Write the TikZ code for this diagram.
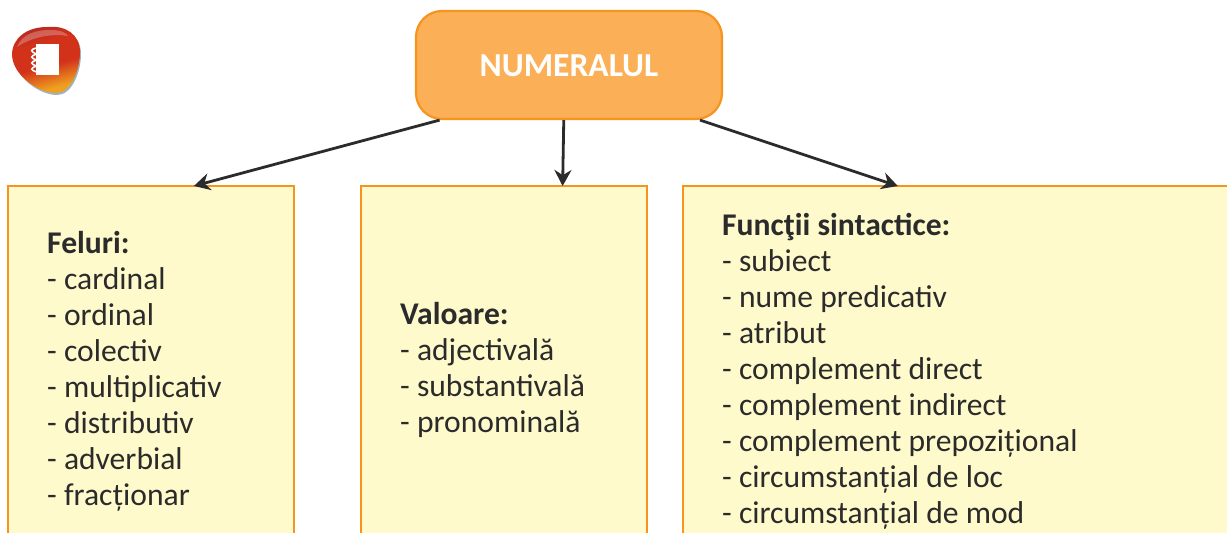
\documentclass[tikz,border=0pt]{standalone}
\usepackage{fontspec}
\setmainfont{Carlito}
\usetikzlibrary{arrows.meta,calc}
\definecolor{boxfill}{HTML}{FEFACB}
\definecolor{boxline}{HTML}{F7941E}
\definecolor{rootfill}{HTML}{FBAF57}
\definecolor{ink}{HTML}{2B2B2B}
\definecolor{iconshadow}{HTML}{9DB4BC}
\definecolor{icontop}{HTML}{B82A22}
\definecolor{iconmid}{HTML}{D2321A}
\definecolor{iconlow}{HTML}{EFA020}
\pgfdeclareverticalshading{iconshade}{100bp}{color(0bp)=(iconlow); color(28bp)=(iconlow); color(45bp)=(iconmid); color(62bp)=(iconmid); color(75bp)=(icontop); color(100bp)=(icontop)}
\tikzset{
  x=1pt,y=-1pt,
  panel/.style={draw=boxline,line width=2.8pt,fill=boxfill,rectangle,inner sep=0pt,outer sep=0pt,anchor=north west},
  rootbox/.style={draw=boxline,line width=2.2pt,fill=rootfill,rectangle,rounded corners=26pt,minimum width=306pt,minimum height=108pt,inner sep=0pt},
  listing/.style={anchor=north west,align=left,inner sep=0pt,text=ink,font=\fontsize{31.6}{36}\selectfont},
  link/.style={draw=ink,line width=2.8pt,-{Stealth[length=16pt,width=17pt]}}
}
\begin{document}
\begin{tikzpicture}
\useasboundingbox (0,0) rectangle (1227,533);
\clip (0,0) rectangle (1227,533);
\fill[white] (0,0) rectangle (1227,533);
% icon
\fill[iconshadow] (14,57) .. controls (14,40) and (28,28) .. (48,28) .. controls (66,26) and (81,36) .. (81,54) .. controls (81,72) and (72,95) .. (57,95) .. controls (40,95) and (15,78) .. (14,57) -- cycle;
\shade[shading=iconshade,shading angle=15]
 (12,55) .. controls (12,38) and (27,27) .. (47,27) .. controls (65,25) and (80,34) .. (80,52) .. controls (80,70) and (71,93) .. (56,93) .. controls (39,93) and (13,76) .. (12,55) -- cycle;
\fill[white,opacity=0.25] (17,47) .. controls (22,34) and (36,30) .. (50,30) .. controls (62,30) and (66,33) .. (68,36) .. controls (50,33) and (30,38) .. (17,47) -- cycle;
\fill[white] (36,44) rectangle (59,75);
\draw[white,line width=1.6pt] (37,48) .. controls (30,49) and (30,52) .. (37,54) .. controls (30,56) and (30,58) .. (37,60) .. controls (30,62) and (30,64) .. (37,66) .. controls (30,68) and (30,70) .. (37,72);
% boxes
\node[panel,minimum width=286pt,minimum height=400pt] (felbox) at (8,186) {};
\node[panel,minimum width=286pt,minimum height=400pt] (valbox) at (361,186) {};
\node[panel,minimum width=600pt,minimum height=400pt] (funbox) at (683,186) {};
\node[rootbox,text=white,font=\fontsize{33.6}{36}\bfseries\selectfont] (root) at (569,65) {\raisebox{-11.5pt}[0pt][0pt]{NUMERALUL}};
% texts
\node[listing] (feltext) at (47,231) {\textbf{Feluri:}\\- cardinal\\- ordinal\\- colectiv\\- multiplicativ\\- distributiv\\- adverbial\\- fracționar};
\node[listing] (valtext) at (400,302) {\textbf{Valoare:}\\- adjectivală\\- substantivală\\- pronominală};
\node[listing] (funtext) at (722,213) {\textbf{Funcţii sintactice:}\\- subiect\\- nume predicativ\\- atribut\\- complement direct\\- complement indirect\\- complement prepozițional\\- circumstanțial de loc\\- circumstanțial de mod};
% connectors
\draw[link] ($(root.south west)!0.08!(root.south east)$) -- ($(felbox.north west)!0.65!(felbox.north east)$);
\draw[link] ($(root.south west)!0.483!(root.south east)$) -- ($(valbox.north west)!0.705!(valbox.north east)$);
\draw[link] ($(root.south west)!0.925!(root.south east)$) -- ($(funbox.north west)!0.358!(funbox.north east)$);
\end{tikzpicture}
\end{document}
